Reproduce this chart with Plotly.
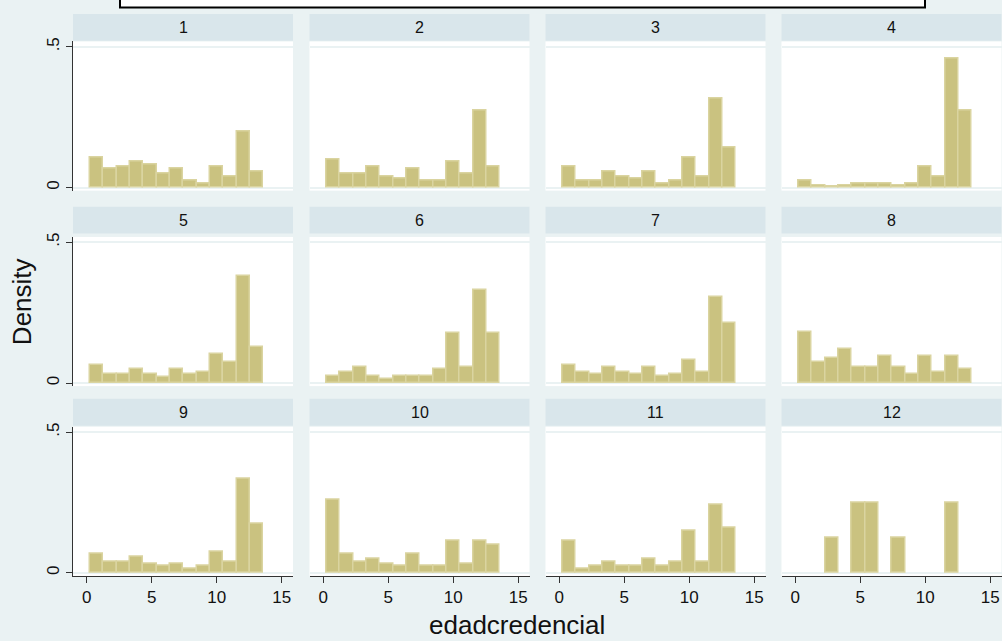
import plotly.graph_objects as go

# Histogram bins shared by every panel (edad credencial)
bin_start = 0.25
bin_width = 1.025
n_bins = 13

# Density per bin for each group
dens_g1 = [0.108, 0.067, 0.075, 0.092, 0.082, 0.049, 0.067, 0.026, 0.016, 0.075, 0.041, 0.200, 0.058]
dens_g2 = [0.100, 0.049, 0.049, 0.075, 0.041, 0.033, 0.067, 0.025, 0.025, 0.092, 0.049, 0.274, 0.075]
dens_g3 = [0.075, 0.025, 0.025, 0.058, 0.041, 0.033, 0.058, 0.016, 0.025, 0.108, 0.041, 0.315, 0.141]
dens_g4 = [0.025, 0.008, 0.003, 0.008, 0.016, 0.016, 0.016, 0.008, 0.016, 0.075, 0.041, 0.458, 0.274]
dens_g5 = [0.065, 0.031, 0.031, 0.049, 0.033, 0.022, 0.049, 0.033, 0.041, 0.105, 0.075, 0.380, 0.128]
dens_g6 = [0.024, 0.041, 0.057, 0.024, 0.016, 0.024, 0.024, 0.024, 0.049, 0.177, 0.057, 0.330, 0.177]
dens_g7 = [0.065, 0.041, 0.033, 0.057, 0.041, 0.033, 0.057, 0.024, 0.033, 0.081, 0.041, 0.305, 0.215]
dens_g8 = [0.180, 0.076, 0.090, 0.122, 0.057, 0.057, 0.098, 0.057, 0.033, 0.098, 0.041, 0.098, 0.049]
dens_g9 = [0.067, 0.041, 0.041, 0.059, 0.033, 0.025, 0.033, 0.016, 0.025, 0.075, 0.041, 0.333, 0.175]
dens_g10 = [0.259, 0.067, 0.041, 0.051, 0.033, 0.025, 0.067, 0.025, 0.025, 0.116, 0.033, 0.116, 0.101]
dens_g11 = [0.116, 0.016, 0.025, 0.041, 0.025, 0.025, 0.051, 0.025, 0.041, 0.151, 0.041, 0.242, 0.159]
dens_g12 = [None, None, 0.125, None, 0.25, 0.25, None, 0.125, None, None, None, 0.25, None]

group_labels = ["1", "2", "3", "4", "5", "6", "7", "8", "9", "10", "11", "12"]
x_ticks = [0, 5, 10, 15]
y_ticks = [0, 0.5]
y_tick_text = ["0", ".5"]

groups = [dens_g1, dens_g2, dens_g3, dens_g4, dens_g5, dens_g6,
          dens_g7, dens_g8, dens_g9, dens_g10, dens_g11, dens_g12]

W, H = 1002, 641
BG = "#EAF2F3"
STRIP = "#D9E6EB"
BAR_FILL = "#CAC280"
BAR_EDGE = "#DAD4A0"
AXIS = "#333333"
FONT = "Liberation Sans, Arial, sans-serif"

col_left = [73, 309.5, 545.5, 781.5]
panel_w = 220
row_plot = [(37.7, 187.8), (234.4, 384.5), (425.4, 575.5)]
row_strip = [(10, 37), (204, 231), (397.3, 424.3)]

centers = [bin_start + bin_width * (k + 0.5) for k in range(n_bins)]

fig = go.Figure()
layout = dict(
    width=W, height=H,
    margin=dict(l=0, r=0, t=0, b=0),
    paper_bgcolor=BG, plot_bgcolor="white",
    showlegend=False,
    font=dict(family=FONT, color="#111111"),
    bargap=0,
)
shapes = []
annotations = []

for i, dens in enumerate(groups):
    r, c = divmod(i, 4)
    n = i + 1
    xa = "x" if n == 1 else f"x{n}"
    ya = "y" if n == 1 else f"y{n}"
    fig.add_trace(go.Bar(
        x=centers, y=dens, width=bin_width,
        marker=dict(color=BAR_FILL, line=dict(color=BAR_EDGE, width=1.5)),
        xaxis=xa, yaxis=ya, hoverinfo="x+y",
    ))
    x0 = col_left[c] / W
    x1 = (col_left[c] + panel_w) / W
    top, bot = row_plot[r]
    bottom_row = r == 2
    first_col = c == 0
    layout["xaxis" if n == 1 else f"xaxis{n}"] = dict(
        domain=[x0, x1], anchor=ya, range=[-1.05, 15.87],
        showgrid=False, zeroline=False,
        showline=bottom_row, linecolor=AXIS, linewidth=1,
        ticks="outside" if bottom_row else "", ticklen=6, tickcolor=AXIS,
        tickvals=x_ticks, showticklabels=bottom_row,
        tickfont=dict(size=17, color="#111111"),
    )
    layout["yaxis" if n == 1 else f"yaxis{n}"] = dict(
        domain=[1 - bot / H, 1 - top / H], anchor=xa, range=[-0.0106, 0.519],
        showgrid=True, gridcolor=BG, gridwidth=2, zeroline=False,
        showline=first_col, linecolor=AXIS, linewidth=1,
        ticks="outside" if first_col else "", ticklen=6, tickcolor=AXIS,
        tickvals=y_ticks, ticktext=y_tick_text, showticklabels=first_col,
        tickangle=-90, tickfont=dict(size=17, color="#111111"),
    )
    s_top, s_bot = row_strip[r]
    shapes.append(dict(type="rect", xref="paper", yref="paper",
                       x0=x0, x1=x1, y0=1 - s_bot / H, y1=1 - s_top / H,
                       fillcolor=STRIP, line=dict(width=0), layer="below"))
    annotations.append(dict(xref="paper", yref="paper",
                            x=(x0 + x1) / 2, y=1 - (s_top + s_bot) / 2 / H,
                            text=group_labels[i], showarrow=False,
                            xanchor="center", yanchor="middle",
                            font=dict(size=16, color="#111111")))

# Framed box along the top edge
shapes.append(dict(type="rect", xref="paper", yref="paper",
                   x0=120 / W, x1=925 / W, y0=1 - 3.5 / H, y1=1 + 20 / H,
                   fillcolor="white", line=dict(color="black", width=2)))

annotations.append(dict(xref="paper", yref="paper", x=517 / W, y=1 - 625 / H,
                        text="edadcredencial", showarrow=False,
                        xanchor="center", yanchor="middle",
                        font=dict(size=26, color="#111111")))
annotations.append(dict(xref="paper", yref="paper", x=22 / W, y=1 - 300 / H,
                        text="Density", showarrow=False, textangle=-90,
                        xanchor="center", yanchor="middle",
                        font=dict(size=26, color="#111111")))

layout["shapes"] = shapes
layout["annotations"] = annotations
fig.update_layout(**layout)
fig.write_html("out.html")
